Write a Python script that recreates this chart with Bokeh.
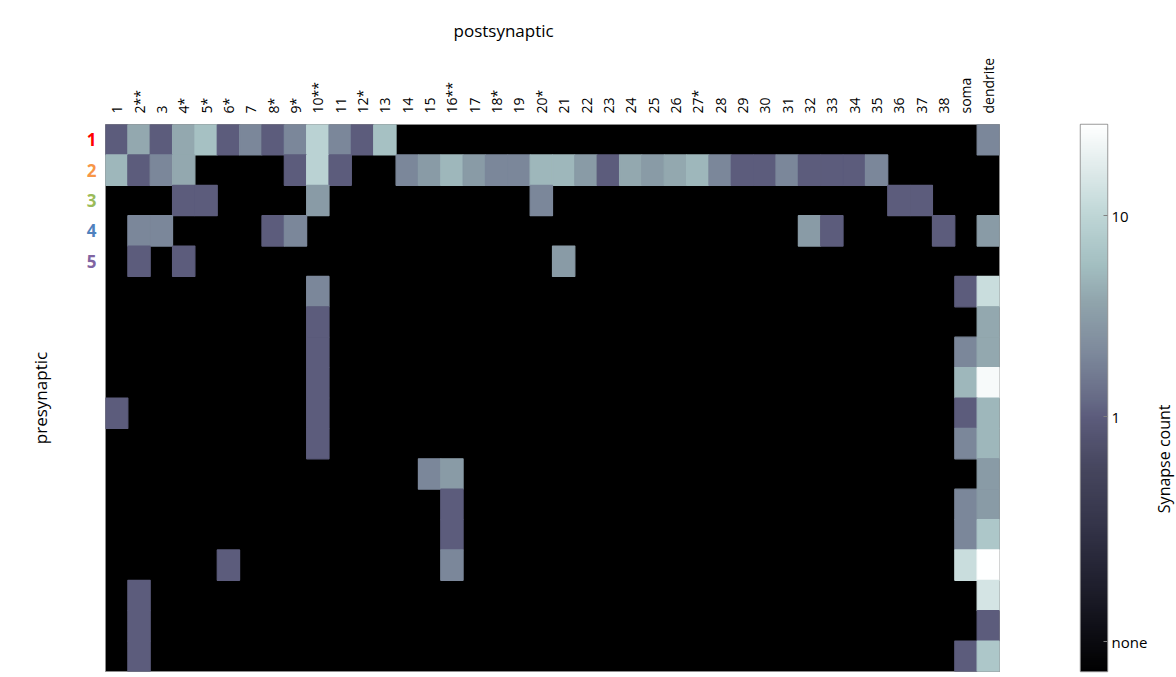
import numpy as np
from bokeh.plotting import figure
from bokeh.models import Range1d, FixedTicker, ColumnDataSource, LogColorMapper
from bokeh.core.properties import value
from bokeh.layouts import row
from bokeh.transform import log_cmap
from bokeh.embed import file_html
from bokeh.resources import INLINE

# ---------------- data ----------------
COL_LABELS = ["1", "2**", "3", "4*", "5*", "6*", "7", "8*", "9*", "10**",
              "11", "12*", "13", "14", "15", "16**", "17", "18*", "19", "20*",
              "21", "22", "23", "24", "25", "26", "27*", "28", "29", "30",
              "31", "32", "33", "34", "35", "36", "37", "38", "soma", "dendrite"]
ROW_LABELS = ["1", "2", "3", "4", "5"]
ROW_LABEL_COLORS = ["#ff0000", "#f79646", "#9bbb59", "#4f81bd", "#8064a2"]

# synapse counts, one list per presynaptic row (40 postsynaptic columns)
pre_01 = [1, 4, 1, 4, 6, 1, 2, 1, 2, 9,  2, 1, 6, 0, 0, 0, 0, 0, 0, 0,
          0, 0, 0, 0, 0, 0, 0, 0, 0, 0,  0, 0, 0, 0, 0, 0, 0, 0, 0, 2]
pre_02 = [5, 1, 2, 4, 0, 0, 0, 0, 1, 9,  1, 0, 0, 2, 3, 5, 3, 2, 2, 5,
          5, 3, 1, 4, 3, 4, 5, 2, 1, 1,  2, 1, 1, 1, 2, 0, 0, 0, 0, 0]
pre_03 = [0, 0, 0, 1, 1, 0, 0, 0, 0, 3,  0, 0, 0, 0, 0, 0, 0, 0, 0, 2,
          0, 0, 0, 0, 0, 0, 0, 0, 0, 0,  0, 0, 0, 0, 0, 1, 1, 0, 0, 0]
pre_04 = [0, 2, 2, 0, 0, 0, 0, 1, 2, 0,  0, 0, 0, 0, 0, 0, 0, 0, 0, 0,
          0, 0, 0, 0, 0, 0, 0, 0, 0, 0,  0, 3, 1, 0, 0, 0, 0, 1, 0, 3]
pre_05 = [0, 1, 0, 1, 0, 0, 0, 0, 0, 0,  0, 0, 0, 0, 0, 0, 0, 0, 0, 0,
          3, 0, 0, 0, 0, 0, 0, 0, 0, 0,  0, 0, 0, 0, 0, 0, 0, 0, 0, 0]
pre_06 = [0, 0, 0, 0, 0, 0, 0, 0, 0, 2,  0, 0, 0, 0, 0, 0, 0, 0, 0, 0,
          0, 0, 0, 0, 0, 0, 0, 0, 0, 0,  0, 0, 0, 0, 0, 0, 0, 0, 1, 12]
pre_07 = [0, 0, 0, 0, 0, 0, 0, 0, 0, 1,  0, 0, 0, 0, 0, 0, 0, 0, 0, 0,
          0, 0, 0, 0, 0, 0, 0, 0, 0, 0,  0, 0, 0, 0, 0, 0, 0, 0, 0, 4]
pre_08 = [0, 0, 0, 0, 0, 0, 0, 0, 0, 1,  0, 0, 0, 0, 0, 0, 0, 0, 0, 0,
          0, 0, 0, 0, 0, 0, 0, 0, 0, 0,  0, 0, 0, 0, 0, 0, 0, 0, 2, 4]
pre_09 = [0, 0, 0, 0, 0, 0, 0, 0, 0, 1,  0, 0, 0, 0, 0, 0, 0, 0, 0, 0,
          0, 0, 0, 0, 0, 0, 0, 0, 0, 0,  0, 0, 0, 0, 0, 0, 0, 0, 5, 25]
pre_10 = [1, 0, 0, 0, 0, 0, 0, 0, 0, 1,  0, 0, 0, 0, 0, 0, 0, 0, 0, 0,
          0, 0, 0, 0, 0, 0, 0, 0, 0, 0,  0, 0, 0, 0, 0, 0, 0, 0, 1, 5]
pre_11 = [0, 0, 0, 0, 0, 0, 0, 0, 0, 1,  0, 0, 0, 0, 0, 0, 0, 0, 0, 0,
          0, 0, 0, 0, 0, 0, 0, 0, 0, 0,  0, 0, 0, 0, 0, 0, 0, 0, 2, 5]
pre_12 = [0, 0, 0, 0, 0, 0, 0, 0, 0, 0,  0, 0, 0, 0, 2, 3, 0, 0, 0, 0,
          0, 0, 0, 0, 0, 0, 0, 0, 0, 0,  0, 0, 0, 0, 0, 0, 0, 0, 0, 3]
pre_13 = [0, 0, 0, 0, 0, 0, 0, 0, 0, 0,  0, 0, 0, 0, 0, 1, 0, 0, 0, 0,
          0, 0, 0, 0, 0, 0, 0, 0, 0, 0,  0, 0, 0, 0, 0, 0, 0, 0, 2, 3]
pre_14 = [0, 0, 0, 0, 0, 0, 0, 0, 0, 0,  0, 0, 0, 0, 0, 1, 0, 0, 0, 0,
          0, 0, 0, 0, 0, 0, 0, 0, 0, 0,  0, 0, 0, 0, 0, 0, 0, 0, 2, 7]
pre_15 = [0, 0, 0, 0, 0, 1, 0, 0, 0, 0,  0, 0, 0, 0, 0, 2, 0, 0, 0, 0,
          0, 0, 0, 0, 0, 0, 0, 0, 0, 0,  0, 0, 0, 0, 0, 0, 0, 0, 12, 28]
pre_16 = [0, 1, 0, 0, 0, 0, 0, 0, 0, 0,  0, 0, 0, 0, 0, 0, 0, 0, 0, 0,
          0, 0, 0, 0, 0, 0, 0, 0, 0, 0,  0, 0, 0, 0, 0, 0, 0, 0, 0, 14]
pre_17 = [0, 1, 0, 0, 0, 0, 0, 0, 0, 0,  0, 0, 0, 0, 0, 0, 0, 0, 0, 0,
          0, 0, 0, 0, 0, 0, 0, 0, 0, 0,  0, 0, 0, 0, 0, 0, 0, 0, 0, 1]
pre_18 = [0, 1, 0, 0, 0, 0, 0, 0, 0, 0,  0, 0, 0, 0, 0, 0, 0, 0, 0, 0,
          0, 0, 0, 0, 0, 0, 0, 0, 0, 0,  0, 0, 0, 0, 0, 0, 0, 0, 1, 7]

MATRIX = [pre_01, pre_02, pre_03, pre_04, pre_05, pre_06, pre_07, pre_08, pre_09,
          pre_10, pre_11, pre_12, pre_13, pre_14, pre_15, pre_16, pre_17, pre_18]

CBAR_TICKS = [0.076, 1, 10]
CBAR_TICK_LABELS = ["none", "1", "10"]

# ---------------- colour scale (style) ----------------
LOW, HIGH = 0.054, 28.4
ANCHORS = [(0.054, "#000000"), (0.143, "#1e1e2c"), (0.28, "#333348"), (0.55, "#46465e"),
           (1.0, "#5c5c7c"), (1.21, "#666a86"), (2.12, "#7e8a9c"), (3.7, "#90a4ac"),
           (5.8, "#a4c0c2"), (10.0, "#bed6d6"), (28.4, "#ffffff")]


def _rgb(h):
    return np.array([int(h[i:i + 2], 16) for i in (1, 3, 5)], dtype=float)


_av = np.log([a[0] for a in ANCHORS])
_ac = np.array([_rgb(a[1]) for a in ANCHORS])
N = 256
_t = np.linspace(np.log(LOW), np.log(HIGH), N + 1)
_mid = (_t[:-1] + _t[1:]) / 2
PALETTE = []
for m in _mid:
    c = [np.interp(m, _av, _ac[:, k]) for k in range(3)]
    PALETTE.append("#%02x%02x%02x" % tuple(int(round(v)) for v in c))

FONT = "Open Sans"
H = 677
TOP, BOTTOM = 124, 6

n_rows = len(MATRIX)
n_cols = len(COL_LABELS)
y_rng = Range1d(n_rows + 0.5, 0.5)

# ---------------- left panel: row labels + "presynaptic" ----------------
lf = figure(width=105, height=H, x_range=Range1d(0, 105), y_range=y_rng,
            x_axis_location=None, y_axis_location=None, output_backend="svg",
            toolbar_location=None, min_border_left=0, min_border_right=0,
            min_border_top=TOP, min_border_bottom=BOTTOM)
lf.grid.visible = False
lf.outline_line_color = None
lab_src = ColumnDataSource(dict(x=[91] * len(ROW_LABELS),
                                y=list(range(1, len(ROW_LABELS) + 1)),
                                text=ROW_LABELS, color=ROW_LABEL_COLORS))
lf.text(x="x", y="y", text="text", text_color="color", source=lab_src,
        text_font=value(FONT), text_font_size="17px", text_font_style="bold",
        text_align="center", text_baseline="middle")
lf.text(x=[40], y=[(n_rows + 1) / 2], text=["presynaptic"], angle=np.pi / 2,
        text_font=value(FONT), text_font_size="17px", text_color="#000000",
        text_align="center", text_baseline="middle")

# ---------------- main heat map ----------------
xs, ys, cs = [], [], []
for r, vals in enumerate(MATRIX):
    for c, v in enumerate(vals):
        if v > 0:
            xs.append(c + 1)
            ys.append(r + 1)
            cs.append(v)
src = ColumnDataSource(dict(x=xs, y=ys, count=cs))

p = figure(width=935, height=H, x_range=Range1d(0.5, n_cols + 0.5),
           y_range=y_rng, x_axis_location="above",
           y_axis_location=None, output_backend="svg", toolbar_location=None,
           min_border_left=0, min_border_right=41, min_border_top=TOP,
           min_border_bottom=BOTTOM)
cmap = log_cmap("count", PALETTE, LOW, HIGH)
p.rect(x="x", y="y", width=1, height=1, source=src, fill_color=cmap,
       line_color=cmap, line_width=1.2)
p.background_fill_color = "black"
p.border_fill_color = "white"
p.grid.visible = False
p.outline_line_color = "#8c8c8c"
p.outline_line_width = 1

p.title.text = "postsynaptic"
p.title.align = "left"
p.title.offset = 348
p.title.text_font = FONT
p.title.text_font_size = "17px"
p.title.text_font_style = "normal"
p.title.text_color = "#000000"
p.title.standoff = 26

xa = p.xaxis[0]
xa.ticker = FixedTicker(ticks=list(range(1, n_cols + 1)))
xa.major_label_overrides = {i + 1: lab for i, lab in enumerate(COL_LABELS)}
xa.major_label_orientation = np.pi / 2
xa.major_label_text_font = FONT
xa.major_label_text_font_size = "14px"
xa.major_label_text_color = "#000000"
xa.major_label_standoff = 5
xa.axis_line_color = None
xa.major_tick_line_color = None
xa.minor_tick_line_color = None

# ---------------- colour bar ----------------
CB_TOP = 118
cb_rng = Range1d(LOW, HIGH)
cb = figure(width=110, height=H, x_range=Range1d(0, 1), y_range=cb_rng,
            y_axis_type="log", x_axis_location=None, y_axis_location="right",
            output_backend="svg", toolbar_location=None,
            min_border_left=40, min_border_right=41, min_border_top=CB_TOP,
            min_border_bottom=0)
grad = np.geomspace(LOW, HIGH, 2 * N).reshape(-1, 1)
cb.image(image=[grad], x=0, y=LOW, dw=1, dh=HIGH - LOW,
         color_mapper=LogColorMapper(palette=PALETTE, low=LOW, high=HIGH))
cb.grid.visible = False
cb.outline_line_color = "#9a9a9a"
cb.outline_line_width = 1.5
cb.border_fill_color = "white"
ya = cb.yaxis[0]
ya.ticker = FixedTicker(ticks=CBAR_TICKS)
ya.major_label_overrides = {t: l for t, l in zip(CBAR_TICKS, CBAR_TICK_LABELS)}
ya.major_label_text_font = FONT
ya.major_label_text_font_size = "15px"
ya.major_label_text_color = "#000000"
ya.major_label_standoff = 4
ya.axis_line_color = None
ya.major_tick_in = 4
ya.major_tick_out = 0
ya.major_tick_line_color = "#808080"
ya.minor_tick_line_color = None

# ---------------- right panel: colour bar title ----------------
rf = figure(width=26, height=H, x_range=Range1d(0, 26), y_range=cb_rng,
            y_axis_type="log", x_axis_location=None, y_axis_location=None,
            output_backend="svg", toolbar_location=None,
            min_border_left=0, min_border_right=0, min_border_top=CB_TOP,
            min_border_bottom=0)
rf.grid.visible = False
rf.outline_line_color = None
rf.text(x=[13], y=[0.617], text=["Synapse count"], angle=np.pi / 2,
        text_font=value(FONT), text_font_size="16px", text_color="#000000",
        text_align="center", text_baseline="middle")

layout = row(lf, p, cb, rf)
open("out.html", "w").write(file_html(layout, INLINE))
